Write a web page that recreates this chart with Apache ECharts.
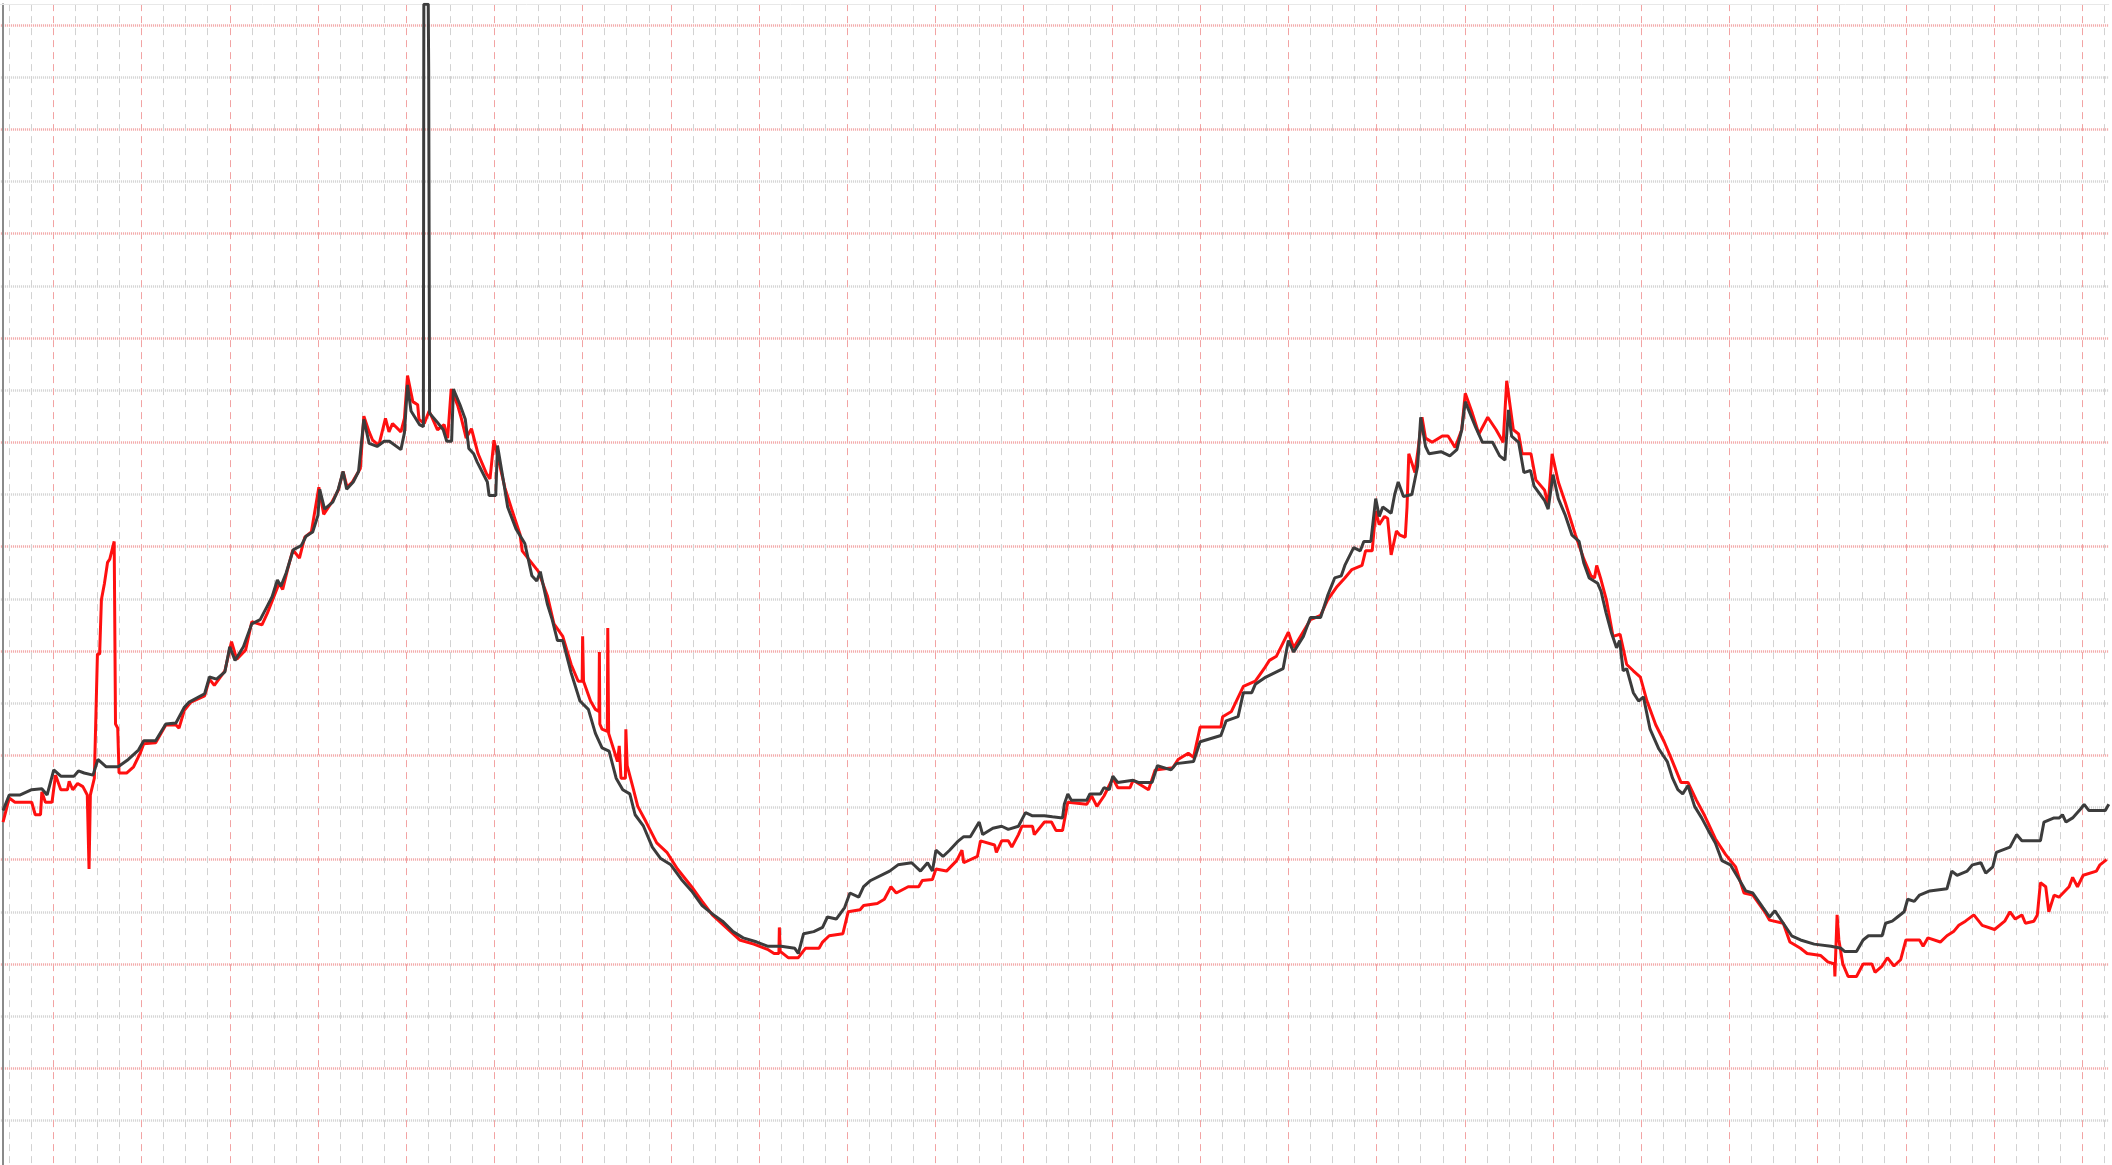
<!DOCTYPE html>
<html>
<head>
<meta charset="utf-8">
<title>trace</title>
<script src="https://cdn.jsdelivr.net/npm/echarts@6.0.0/dist/echarts.min.js"></script>
<style>
  html, body { margin: 0; padding: 0; background: #fff; }
  #chart { width: 2112px; height: 1165px; }
</style>
</head>
<body>
<div id="chart"></div>
<script>
// dark trace
const grayTime = [
  8.6,10,12.5,15.1,17.4,18.6,20.1,21.7,24.7,25.7,
  27,29,30.1,32,34.7,37,39.3,40.5,43.2,45.5,
  47.8,49.7,50.8,54.3,55.4,57,58.9,60,61.2,63.1,
  65,66.9,68.5,69.6,70.8,71.6,72.8,74.4,76.2,77.3,
  78.8,80,80.4,81.5,83.4,84.6,85.7,86.5,88,89.2,
  90.4,91.6,93.4,95,96.2,98.8,99.6,100.3,101.1,103,
  103.9,104,105,105.1,105.3,106.9,108.4,109.2,110.3,110.7,
  112.2,113.4,114.2,115.3,116.1,118.4,118.8,120.3,120.7,122.2,
  123,124.9,126.9,128.5,129.6,130.4,132,133.1,134.3,135.5,
  137.4,139.4,141.3,142.9,144.4,146,147.6,149.1,150.7,151.9,
  153.8,155.8,157.7,160,162.4,164.7,167.1,169.4,171.7,174.1,
  176.4,179.5,181.9,185,188.1,188.9,190.1,192.4,194.4,195.5,
  197.5,199.4,200.6,202.6,203.7,205.3,209.6,211.5,214.6,216.6,
  218.2,219.3,220.1,221.7,223.2,225.2,226.4,227.9,229.9,230.7,
  233,235,236.5,238.8,240.4,242,244.7,246.5,248.8,249.2,
  250,250.8,254.3,255,257.4,258.2,259.4,260.2,261.3,264.8,
  266,269.1,270.3,273.4,274.6,278.5,280,284.7,285.9,288.6,
  289.8,291.7,292.5,294.9,298.8,300,301.2,303.4,305,307.3,
  308.9,310.5,312,312.8,314.8,316.3,317.1,318.7,319.8,320.6,
  321.4,323.3,324.1,324.9,326.1,328,329.3,330,331.1,331.9,
  334.6,336.6,338.2,339.3,340.1,342.5,344,346.3,347.9,349.1,
  349.9,350.6,352.2,353.4,354.9,355.7,358.1,358.9,360,361.2,
  362.7,364.3,365.9,367,368.2,370.1,370.9,372,373.2,374.4,
  375.1,375.9,376.7,378.2,379.4,380.5,382,384,385.9,387.1,
  388.3,389.4,390.6,392.1,393.7,395.2,396.8,398.3,400.2,402.2,
  403.7,405.3,407.6,409.1,410.3,412.2,414.1,416.1,419.2,423,
  425.3,426.1,428.8,430.3,431.5,434.6,435.4,436.9,438.1,439.6,
  440.4,441.9,443.1,445.4,449.3,450.4,451.6,453.9,455.1,457,
  458.1,459.7,460.5,463.6,465.1,466.3,470.5,471.3,473.6,474.8,
  475.5,476.3,477.8,479.7,480.4,481.5,485.2,486
];
const grayValue = [
  34.7,36.2,36.2,36.7,36.8,36.2,38.6,38.0,38.0,38.5,
  38.3,38.1,39.6,38.9,38.9,39.6,40.5,41.4,41.4,43.0,
  43.1,44.6,45.1,45.9,47.5,47.3,48.0,50.4,49.1,50.4,
  52.6,53.0,54.3,55.2,56.8,56.2,57.5,59.7,60.1,61.0,
  61.4,63.0,65.5,63.6,64.3,65.5,67.2,65.5,66.2,67.2,
  72.2,69.9,69.6,70.1,70.1,69.3,70.9,75.5,73.0,71.7,
  71.5,112,112,105.7,72.8,72.0,71.2,70.1,70.1,75.1,
  73.6,72.2,69.4,68.9,68.1,66.2,64.9,64.9,69.7,65.9,
  63.8,61.7,60.3,57.2,56.7,57.6,54.5,53.0,51.0,51.0,
  47.9,45.2,44.4,42.1,40.7,40.4,37.8,36.7,36.3,34.3,
  33.2,31.2,30.1,29.5,28.1,27.0,25.6,24.8,24.1,23.1,
  22.5,22.1,21.7,21.7,21.5,21.0,22.9,23.1,23.5,24.5,
  24.3,25.4,26.8,26.4,27.4,28.0,28.9,29.5,29.7,28.9,
  29.7,28.9,30.9,30.3,30.9,31.8,32.2,32.2,33.6,32.4,
  33.0,33.2,32.9,33.2,34.5,34.2,34.2,34.1,34.0,35.3,
  36.3,35.7,35.7,36.3,36.3,36.9,36.7,38.0,37.4,37.6,
  37.4,37.4,39.0,38.6,39.2,39.4,41.3,41.9,43.3,43.7,
  46.0,46.0,46.8,47.5,48.3,51.0,49.9,51.4,53.2,53.2,
  55.3,57.0,57.2,58.2,59.9,59.6,60.5,60.5,64.6,62.9,
  63.8,63.2,65.0,66.2,64.8,65.0,67.7,72.4,69.6,68.9,
  69.1,68.7,69.3,71.2,73.9,71.4,70.0,70.0,68.7,68.3,
  73.1,70.6,70.0,67.1,67.3,65.8,64.4,63.6,66.9,64.6,
  63.1,61.1,60.5,58.4,57.0,56.5,55.7,53.7,51.8,50.3,
  51.0,48.1,48.3,46.0,45.2,45.6,42.5,40.6,39.4,37.8,
  36.7,36.3,37.1,35.1,34.0,32.8,31.6,29.9,29.5,28.1,
  27.0,26.8,25.4,24.5,25.1,23.9,22.7,22.3,21.9,21.7,
  21.5,21.2,21.2,22.3,22.7,22.7,23.9,24.1,24.5,25.0,
  26.2,26.0,26.6,27.0,27.2,28.9,28.5,28.9,29.5,29.7,
  28.7,29.3,30.7,31.2,32.4,31.8,31.8,33.6,34.0,34.0,
  34.3,33.6,34.0,34.9,35.3,34.7,34.7,35.3
];

// red trace
const redTime = [
  8.6,10,11.3,15.1,15.9,17.1,17.4,18.2,19.7,20.5,
  21.7,23.2,23.6,24.4,25.5,26.7,27.7,28.1,28.4,29.3,
  30,30.5,30.9,31.6,32.3,32.8,33.8,34.1,34.6,34.9,
  36.6,38.2,39.7,40.5,43.2,45.5,47.8,48.5,49.7,51.2,
  54.3,55.4,56.5,58.9,60.4,61.6,63.6,65,67.3,68.5,
  70,71.2,72,73.1,74.3,75.8,77,78.5,80.2,81.3,
  83.2,84.6,85.7,86.6,87.8,89.6,90.4,91.6,92.4,93.8,
  95.3,96.1,96.9,98.8,99.6,100.3,101.5,102.6,102.9,104.1,
  105.2,107.1,108.6,109.4,110.2,111.7,112.5,113.6,114.8,116.3,
  118.2,119,119.9,121.2,122.4,123.9,125.8,126.3,130,132,
  133.5,135.5,137.4,139,139.9,140,140.2,141.8,142.9,143.7,
  143.8,143.9,144.4,145.6,145.7,145.9,147.9,148.3,148.7,149.7,
  149.8,150.1,151.3,152.5,154.4,156.8,159.1,161.5,164.7,167.1,
  169.4,172.5,175.6,178.8,181.9,183.4,184.5,184.6,184.8,186.6,
  188.9,190.5,193.6,194.4,195.9,199,200.2,202.9,203.7,206.8,
  208.4,209.9,211.1,213.8,216.2,217,219.3,220.1,222.5,224.8,
  226,226.4,229.5,230.2,233.4,233.8,235,236.5,237.3,238.8,
  239.6,242,242.4,244.7,246.3,247.3,248.8,250,254.3,255.4,
  256.6,258.2,260.2,261.3,264.1,264.8,268.3,269.8,273.8,275,
  277.3,278.5,280,284.7,285.1,287.1,289.8,292.5,294.5,295.7,
  297.3,300,301.2,305,307.3,308.9,310.9,312.8,314.4,316.7,
  317.5,319,319.8,320.6,321.8,322.5,323.3,324.5,325.3,326.5,
  326.9,327.3,328.7,329.5,330.3,331.1,332.6,334.9,336.2,337.8,
  339.3,340.1,341.7,343.2,345.2,347.1,348.7,349.5,351,352.2,
  353,355,356.1,358.1,358.9,359.8,361.2,362.8,365.1,367,
  368.6,369.4,369.9,370.9,372.1,373.6,375.2,376.7,378.2,379.8,
  381.3,383.3,385.2,386.7,389,390.6,392.5,394.4,396.8,399.1,
  401.4,403.3,405.3,408,409.1,412.2,413.7,416.1,417.6,420.7,
  422.3,423.8,423.9,424.4,424.8,425.7,426.9,428.8,430.3,432.3,
  433,434.6,435.8,437.3,438.8,440,443.1,443.9,445,447.8,
  449.3,450.8,452,453.5,455.4,457.3,460.1,462.4,463.6,464.8,
  466.3,467.1,469,469.8,470.5,471.7,472.4,473.6,474.7,477,
  477.8,478.9,480.2,483.2,484,485.5
];
const redValue = [
  33.6,35.9,35.5,35.5,34.3,34.3,36.5,35.5,35.5,38.1,
  36.7,36.7,37.5,36.7,37.3,37.0,36.2,29.1,36.2,37.8,
  49.7,49.7,54.9,56.5,58.5,58.8,60.5,43.0,42.6,38.3,
  38.3,38.9,40.2,41.1,41.2,42.9,42.9,42.6,44.3,45.1,
  45.7,47.3,46.7,48.1,50.9,49.2,50.1,52.8,52.5,53.6,
  55.2,56.5,55.9,57.8,59.7,58.9,60.9,61.4,65.7,63.1,
  64.3,65.4,67.2,65.7,66.2,67.5,72.5,71.0,70.2,69.7,
  72.3,71.0,71.8,71.0,72.3,76.4,73.9,73.6,72.2,71.8,
  73.0,71.2,71.7,70.4,75.1,73.5,72.3,70.4,71.3,68.9,
  67.0,66.5,70.2,67.8,65.6,63.6,61.2,59.6,57.6,55.3,
  52.6,51.4,48.7,47.1,47.1,51.4,47.1,45.2,44.4,44.2,
  49.9,43.0,42.5,42.3,52.2,42.1,39.4,40.9,37.8,37.8,
  42.5,39.0,37.1,35.1,33.6,31.6,30.7,29.1,27.4,26.0,
  24.7,23.5,22.3,21.9,21.4,21.0,21.0,23.5,21.2,20.6,
  20.6,21.5,21.5,22.1,22.7,22.9,25.0,25.2,25.6,25.8,
  26.2,27.4,26.8,27.4,27.4,28.0,28.1,29.1,28.9,29.9,
  30.9,29.7,30.3,31.8,31.4,30.7,31.8,31.8,31.2,32.4,
  33.2,33.2,32.4,33.6,33.6,32.8,32.8,35.5,35.3,36.1,
  35.1,36.1,37.8,36.9,36.9,37.6,36.7,38.6,38.8,39.6,
  40.2,39.8,42.7,42.7,43.7,44.2,46.6,47.1,48.3,49.1,
  49.5,51.8,50.3,53.0,53.4,54.9,56.1,57.0,57.8,58.2,
  59.6,59.6,63.4,62.1,62.9,62.7,59.2,61.5,61.1,60.9,
  63.8,68.9,67.1,69.6,72.4,70.4,70.0,70.6,70.6,69.5,
  71.2,74.7,72.8,70.8,72.4,71.2,70.0,75.9,71.2,70.8,
  68.9,68.9,66.4,65.4,64.0,68.9,66.2,64.2,61.1,58.8,
  57.2,57.0,58.2,56.8,54.9,51.4,51.6,48.7,48.1,47.5,
  45.2,42.9,41.3,39.8,37.4,37.4,35.7,34.2,32.0,30.5,
  29.3,26.8,26.6,25.0,24.2,23.9,22.1,21.5,21.0,20.8,
  20.2,20.0,18.8,24.7,22.3,20.0,18.8,18.8,20.0,20.0,
  19.2,19.8,20.6,19.8,20.4,22.3,22.3,21.7,22.5,22.1,
  22.7,23.1,23.7,24.1,24.7,23.7,23.3,24.1,25.0,24.3,
  24.7,23.9,24.1,24.7,27.8,27.4,25.0,26.6,26.4,27.4,
  28.3,27.4,28.5,28.9,29.5,30.0
];

var chart = echarts.init(document.getElementById('chart'));

function pairs(xs, ys) {
  return xs.map(function (x, i) { return [x, ys[i]]; });
}

var redGrid = '#f2a3a3';
var grayGrid = '#d2d2d2';

var option = {
  animation: false,
  backgroundColor: '#fff',
  // chart paper starts off-screen so the big squares line up like the original
  grid: {
    left: -34.9,
    right: 3.2,
    top: 4.13,
    bottom: -7.6,
    outerBoundsMode: 'none'
  },
  xAxis: {
    type: 'value',
    position: 'top',
    min: 0,
    max: 486,
    interval: 20,
    axisLine: {
      show: true,
      onZero: false,
      lineStyle: { color: '#e8e8e8', width: 1 }
    },
    axisTick: { show: false },
    axisLabel: { show: false },
    minorTick: { show: false, splitNumber: 4 },
    splitLine: {
      show: true,
      showMaxLine: false,
      lineStyle: { color: redGrid, width: 1, type: [7, 5] }
    },
    minorSplitLine: {
      show: true,
      lineStyle: { color: grayGrid, width: 1, type: [7, 5] }
    }
  },
  yAxis: {
    type: 'value',
    min: 0,
    max: 112,
    interval: 10,
    offset: -37.9,
    axisLine: {
      show: true,
      lineStyle: { color: '#8a8a8a', width: 2 }
    },
    axisTick: { show: false },
    axisLabel: { show: false },
    minorTick: { show: false, splitNumber: 2 },
    splitLine: {
      show: true,
      showMaxLine: false,
      lineStyle: { color: redGrid, width: 2.5, type: [1, 1] }
    },
    minorSplitLine: {
      show: true,
      lineStyle: { color: grayGrid, width: 2.5, type: [1, 1] }
    }
  },
  series: [
    {
      name: 'red',
      type: 'line',
      showSymbol: false,
      symbol: 'none',
      data: pairs(redTime, redValue),
      lineStyle: { color: '#ff1010', width: 3 },
      z: 2
    },
    {
      name: 'gray',
      type: 'line',
      showSymbol: false,
      symbol: 'none',
      data: pairs(grayTime, grayValue),
      lineStyle: { color: '#3c3c3c', width: 3 },
      z: 3
    }
  ]
};

chart.setOption(option);
</script>
</body>
</html>
